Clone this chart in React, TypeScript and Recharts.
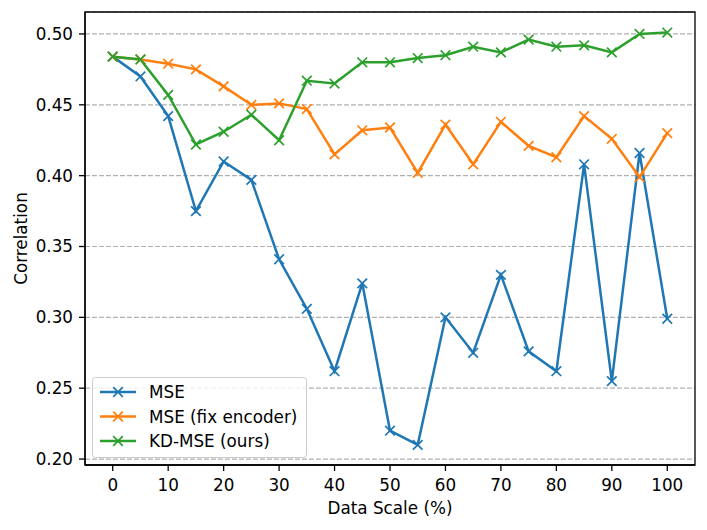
import React from 'react';
import { LineChart, Line, XAxis, YAxis, CartesianGrid, Legend, ReferenceArea, Label } from 'recharts';

const scales = [0, 5, 10, 15, 20, 25, 30, 35, 40, 45, 50, 55, 60, 65, 70, 75, 80, 85, 90, 95, 100];
const mse = [0.484, 0.470, 0.442, 0.375, 0.410, 0.397, 0.341, 0.306, 0.262, 0.324, 0.220, 0.210, 0.300, 0.275, 0.330, 0.276, 0.262, 0.408, 0.255, 0.416, 0.299];
const mseFix = [0.484, 0.482, 0.479, 0.475, 0.463, 0.450, 0.451, 0.447, 0.415, 0.432, 0.434, 0.402, 0.436, 0.408, 0.438, 0.421, 0.413, 0.442, 0.426, 0.399, 0.430];
const kdMse = [0.484, 0.482, 0.457, 0.422, 0.431, 0.443, 0.425, 0.467, 0.465, 0.480, 0.480, 0.483, 0.485, 0.491, 0.487, 0.496, 0.491, 0.492, 0.487, 0.500, 0.501];
const xTicks = [0, 10, 20, 30, 40, 50, 60, 70, 80, 90, 100];
const yTicks = [0.2, 0.25, 0.3, 0.35, 0.4, 0.45, 0.5];

const series = [
  { key: 'mse', name: 'MSE', color: '#1f77b4' },
  { key: 'mseFix', name: 'MSE (fix encoder)', color: '#ff7f0e' },
  { key: 'kdMse', name: 'KD-MSE (ours)', color: '#2ca02c' },
];

const data = scales.map((s, i) => ({ scale: s, mse: mse[i], mseFix: mseFix[i], kdMse: kdMse[i] }));

const FONT = 'DejaVu Sans';
const FS = 16.8;
const X_DOMAIN: [number, number] = [-5, 105];
const Y_DOMAIN: [number, number] = [0.1958, 0.5155];

const makeDot = (color: string) => (props: any) => {
  const { cx, cy, index } = props;
  const r = 4.8;
  if (cx == null || cy == null) return <g key={`d-${color}-${index}`} />;
  return (
    <g key={`d-${color}-${index}`}>
      <line x1={cx - r} y1={cy - r} x2={cx + r} y2={cy + r} stroke={color} strokeWidth={1.7} />
      <line x1={cx - r} y1={cy + r} x2={cx + r} y2={cy - r} stroke={color} strokeWidth={1.7} />
    </g>
  );
};

const LegendBox = () => (
  <svg width={216} height={82} style={{ display: 'block' }}>
    <rect x={0.5} y={0.5} width={214} height={80} rx={3} ry={3} fill="rgba(255,255,255,0.8)" stroke="#cccccc" strokeWidth={1} />
    {series.map((s, i) => {
      const y = 15 + i * 24.5;
      return (
        <g key={s.key}>
          <line x1={8} y1={y} x2={44} y2={y} stroke={s.color} strokeWidth={2.5} />
          <line x1={26 - 4.8} y1={y - 4.8} x2={26 + 4.8} y2={y + 4.8} stroke={s.color} strokeWidth={1.7} />
          <line x1={26 - 4.8} y1={y + 4.8} x2={26 + 4.8} y2={y - 4.8} stroke={s.color} strokeWidth={1.7} />
          <text x={57} y={y + 6} fontFamily={FONT} fontSize={FS} fill="#000">{s.name}</text>
        </g>
      );
    })}
  </svg>
);

const YLabel = (props: any) => {
  const vb = props.viewBox || { x: 0, y: 12, width: 85, height: 453 };
  const cx = 27;
  const cy = vb.y + vb.height / 2;
  return (
    <text x={cx} y={cy} transform={`rotate(-90, ${cx}, ${cy})`} textAnchor="middle" fontFamily={FONT} fontSize={FS} fill="#000">
      Correlation
    </text>
  );
};

export default function App() {
  return (
    <div style={{ position: 'absolute', left: 0, top: 0, width: 707, height: 530, background: '#fff' }}>
      <LineChart width={707} height={530} data={data} margin={{ top: 12, right: 12, bottom: 0, left: 0 }}>
        <CartesianGrid vertical={false} stroke="#b0b0b0" strokeDasharray="4.9 2.1" strokeWidth={1.2} />
        <XAxis
          dataKey="scale"
          type="number"
          domain={X_DOMAIN}
          ticks={xTicks}
          allowDataOverflow
          height={65}
          tickSize={6}
          tickMargin={8}
          axisLine={{ stroke: '#000', strokeWidth: 1.3 }}
          tickLine={{ stroke: '#000', strokeWidth: 1.3 }}
          tick={{ fill: '#000', fontSize: FS, fontFamily: FONT }}
        >
          <Label value="Data Scale (%)" position="insideBottom" offset={16} style={{ fill: '#000', fontSize: FS, fontFamily: FONT }} />
        </XAxis>
        <YAxis
          type="number"
          domain={Y_DOMAIN}
          ticks={yTicks}
          allowDataOverflow
          width={85}
          tickSize={6}
          tickMargin={6}
          tickFormatter={(v: number) => v.toFixed(2)}
          axisLine={{ stroke: '#000', strokeWidth: 1.3 }}
          tickLine={{ stroke: '#000', strokeWidth: 1.3 }}
          tick={{ fill: '#000', fontSize: FS, fontFamily: FONT }}
        >
          <Label content={YLabel} />
        </YAxis>
        {series.map((s) => (
          <Line
            key={s.key}
            dataKey={s.key}
            name={s.name}
            stroke={s.color}
            strokeWidth={2.5}
            dot={makeDot(s.color)}
            activeDot={false}
            isAnimationActive={false}
            type="linear"
          />
        ))}
        <ReferenceArea x1={X_DOMAIN[0]} x2={X_DOMAIN[1]} y1={Y_DOMAIN[0]} y2={Y_DOMAIN[1]} fill="none" fillOpacity={0} stroke="#000" strokeWidth={1.3} ifOverflow="visible" />
        <Legend
          layout="vertical"
          align="center"
          verticalAlign="middle"
          content={() => <LegendBox />}
          wrapperStyle={{ left: 92, top: 377, width: 216, height: 82 }}
        />
      </LineChart>
    </div>
  );
}
